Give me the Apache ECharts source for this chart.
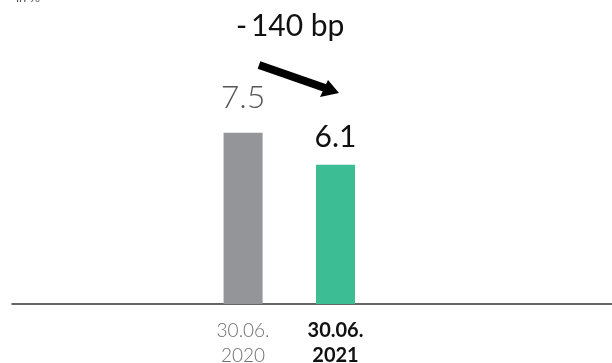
<!DOCTYPE html>
<html><head><meta charset="utf-8">
<script src="https://cdn.jsdelivr.net/npm/echarts@6/dist/echarts.min.js"></script>
<style>html,body{margin:0;padding:0;background:#fff}#c{width:612px;height:363px}</style>
</head><body><div id="c"></div>
<script>
const categories = ['', '', '30.06.\n2020', '30.06.\n2021', '', '', ''];
const values = [null, null, 7.5, 6.1, null, null, null];
const changeLabel = '-\u2009140 bp';
const unitLabel = 'in %';

const chart = echarts.init(document.getElementById('c'), null, {renderer: 'canvas'});
const F = 'Lato, "Noto Sans", sans-serif';
chart.setOption({
  animation: false,
  grid: {left: 12, right: -47, top: 30, bottom: 59, containLabel: false, outerBoundsMode: 'none'},
  xAxis: {
    type: 'category', data: categories,
    axisLine: {lineStyle: {color: '#333', width: 1.5}},
    axisTick: {show: false},
    axisLabel: {
      interval: 0, margin: 14,
      formatter: (v, i) => i === 3 ? '{b|' + v.replace('\n', '}\n{b|') + '}' : '{a|' + v.replace('\n', '}\n{a|') + '}',
      rich: {
        a: {fontFamily: F, fontWeight: 300, fontSize: 19, color: '#6d6e71', lineHeight: 25},
        b: {fontFamily: F, fontWeight: 'bold', fontSize: 20, color: '#111', lineHeight: 25}
      }
    }
  },
  yAxis: {type: 'value', min: 0, max: 12, show: false, splitLine: {show: false}},
  series: [{
    type: 'bar', barWidth: 39,
    data: values.map((v, i) => v == null ? null : {
      value: v,
      itemStyle: {color: i === 2 ? '#939598' : '#3dbd94'},
      label: i === 2
        ? {show: true, position: 'top', distance: 19, fontFamily: F, fontWeight: 300, fontSize: 32, color: '#555'}
        : {show: true, position: 'top', distance: 12, fontFamily: F, fontWeight: 'normal', fontSize: 30, color: '#111'}
    }),
    label: {formatter: p => p.value.toFixed(1)}
  }],
  graphic: [
    {type: 'text', left: 16, top: -9, style: {text: unitLabel, fontFamily: F, fontSize: 13, fill: '#555'}},
    {type: 'text', left: 236, top: 11, style: {text: changeLabel, fontFamily: F, fontSize: 30, fill: '#111'}},
    {type: 'line', shape: {x1: 259, y1: 65, x2: 325, y2: 88}, style: {stroke: '#000', lineWidth: 8}},
    {type: 'polygon', shape: {points: [[339, 93], [320, 97], [328, 80]]}, style: {fill: '#000'}}
  ]
});
</script></body></html>
